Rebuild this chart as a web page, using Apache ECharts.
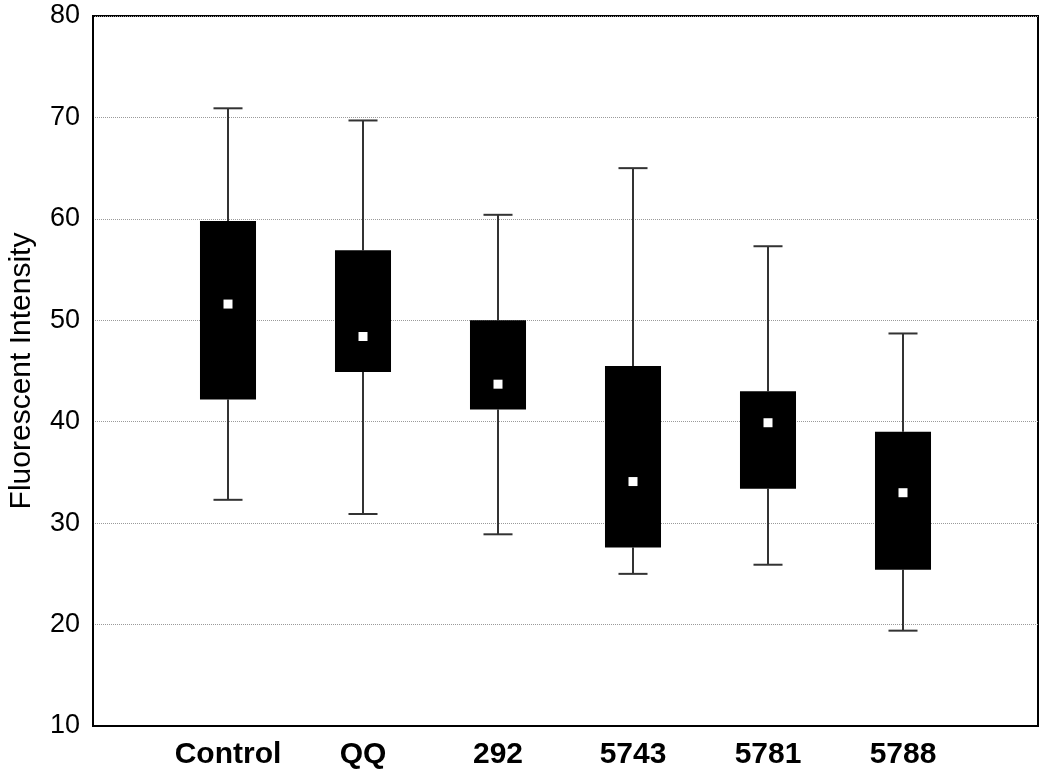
<!DOCTYPE html>
<html>
<head>
<meta charset="utf-8">
<script src="https://cdn.jsdelivr.net/npm/echarts@6/dist/echarts.min.js"></script>
<style>html,body{margin:0;padding:0;background:#fff}#c{width:1050px;height:778px}</style>
</head>
<body>
<div id="c"></div>
<script>
const categories = ['', 'Control', 'QQ', '292', '5743', '5781', '5788', ''];
const groups = ['Control', 'QQ', '292', '5743', '5781', '5788'];
const whiskerLow  = [32.3, 30.9, 28.9, 25.0, 25.9, 19.4];
const boxLow      = [42.2, 44.9, 41.2, 27.6, 33.4, 25.4];
const medianVals  = [51.6, 48.4, 43.7, 34.1, 39.9, 33.0];
const boxHigh     = [59.8, 56.9, 50.0, 45.5, 43.0, 39.0];
const whiskerHigh = [70.9, 69.7, 60.4, 65.0, 57.3, 48.7];
const yTicks = [10, 20, 30, 40, 50, 60, 70, 80];

const data = groups.map((g, i) => [categories.indexOf(g), whiskerLow[i], boxLow[i], medianVals[i], boxHigh[i], whiskerHigh[i]]);

const chart = echarts.init(document.getElementById('c'));
chart.setOption({
  animation: false,
  backgroundColor: '#fff',
  grid: { left: 93, right: 12, top: 16, bottom: 52, containLabel: false, outerBoundsMode: 'none', show: true, borderColor: '#000', borderWidth: 2, backgroundColor: 'transparent' },
  xAxis: {
    type: 'category', data: categories, boundaryGap: false,
    axisLine: { show: true, lineStyle: { color: '#000', width: 2 } },
    axisTick: { show: false },
    axisLabel: { fontFamily: 'Liberation Sans, Arial, sans-serif', fontWeight: 'bold', fontSize: 30, color: '#000', margin: 14, interval: 0 },
    splitLine: { show: false }
  },
  yAxis: {
    type: 'value', min: yTicks[0], max: yTicks[yTicks.length - 1], interval: 10,
    name: 'Fluorescent Intensity', nameLocation: 'middle', nameGap: 56, nameRotate: 90,
    nameTextStyle: { fontFamily: 'Liberation Sans, Arial, sans-serif', fontSize: 30, color: '#000' },
    axisLine: { show: true, lineStyle: { color: '#000', width: 2 } },
    axisTick: { show: false },
    axisLabel: { fontFamily: 'Liberation Sans, Arial, sans-serif', fontSize: 27, color: '#000', margin: 13 },
    splitLine: { show: true, lineStyle: { color: '#9a9a9a', type: 'dotted', width: 1 } }
  },
  series: [{
    type: 'custom',
    data: data,
    encode: { x: 0, y: [1, 2, 3, 4, 5] },
    renderItem: function (params, api) {
      const x = api.value(0);
      const pLow = api.coord([x, api.value(1)]);
      const pBL = api.coord([x, api.value(2)]);
      const pMed = api.coord([x, api.value(3)]);
      const pBH = api.coord([x, api.value(4)]);
      const pHigh = api.coord([x, api.value(5)]);
      const band = api.size([1, 0])[0];
      const boxW = band * 0.415;
      const capW = band * 0.215;
      const cx = pMed[0];
      const ws = { stroke: '#333', lineWidth: 2, fill: null };
      return {
        type: 'group',
        children: [
          { type: 'line', shape: { x1: cx, y1: pHigh[1], x2: cx, y2: pBH[1] }, style: ws },
          { type: 'line', shape: { x1: cx, y1: pLow[1], x2: cx, y2: pBL[1] }, style: ws },
          { type: 'line', shape: { x1: cx - capW / 2, y1: pHigh[1], x2: cx + capW / 2, y2: pHigh[1] }, style: ws },
          { type: 'line', shape: { x1: cx - capW / 2, y1: pLow[1], x2: cx + capW / 2, y2: pLow[1] }, style: ws },
          { type: 'rect', shape: { x: cx - boxW / 2, y: pBH[1], width: boxW, height: pBL[1] - pBH[1] }, style: { fill: '#000' } },
          { type: 'rect', shape: { x: cx - 4.5, y: pMed[1] - 4.5, width: 9, height: 9 }, style: { fill: '#fff' } }
        ]
      };
    }
  }]
});
</script>
</body>
</html>
